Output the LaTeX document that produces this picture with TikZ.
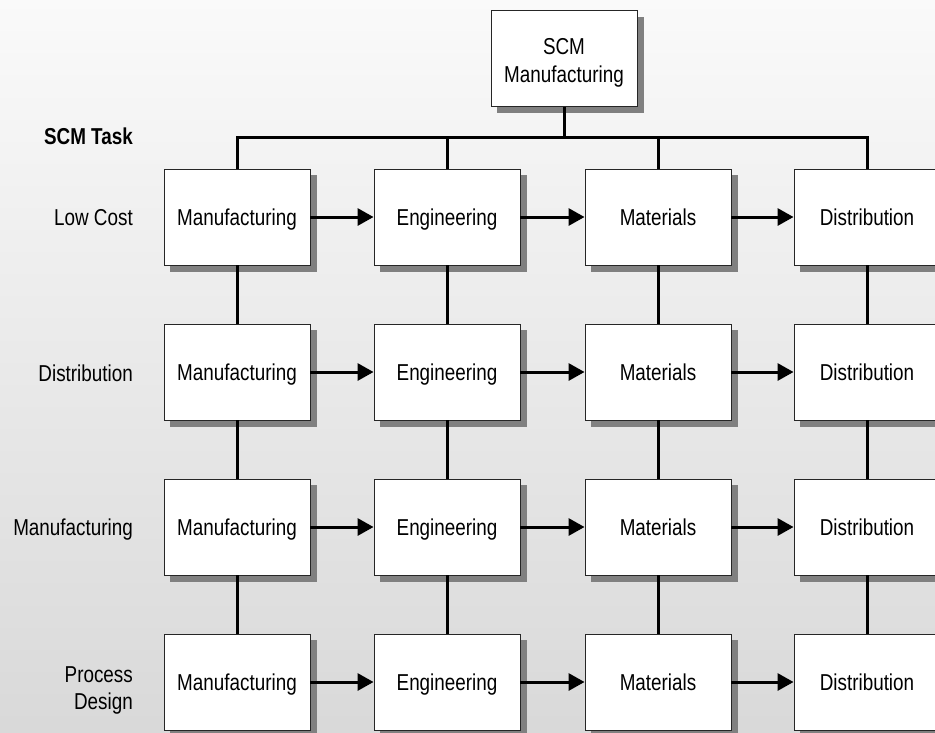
\documentclass[tikz,border=0pt]{standalone}
\usepackage{fontspec}
\setmainfont{Liberation Sans}[FakeStretch=0.82]
\usetikzlibrary{arrows.meta}
\pgfdeclarelayer{backdrop}
\pgfdeclarelayer{shade}
\pgfsetlayers{backdrop,shade,main}
\begin{document}
\begin{tikzpicture}[x=1pt,y=-1pt,
  txt/.style={font=\fontsize{23}{27}\selectfont},
  taskbox/.style={txt, draw=black!85, line width=0.9pt, fill=white,
    minimum width=146pt, minimum height=96pt, inner sep=0pt, align=center,
    text height=17pt, text depth=1pt},
  rowlabel/.style={txt, align=right, inner sep=0pt,
    text height=17pt, text depth=1pt},
  link/.style={line width=3pt},
  flow/.style={line width=3pt, -{Triangle[length=16pt,width=17pt]}},
  boxshadow/.style={fill=black!50}]

% canvas and backdrop
\useasboundingbox (0,0) rectangle (935,732);
\begin{pgfonlayer}{backdrop}
\shade[top color=black!2, bottom color=black!15] (0,0) rectangle (935,732);
\end{pgfonlayer}

% root of the hierarchy (two-line text: height is measured to the last baseline)
\node[taskbox, text height=47pt, text depth=0pt, font=\fontsize{23}{28}\selectfont]
  (root) at (564,58.5) {SCM\\Manufacturing};

% task grid: columns by function, rows by SCM task
\foreach \r/\y in {1/217,2/372,3/527,4/682}{
  \node[taskbox] (m\r) at (237,\y) {Manufacturing};
  \node[taskbox] (e\r) at (447,\y) {Engineering};
  \node[taskbox] (t\r) at (658,\y) {Materials};
  \node[taskbox] (d\r) at (867,\y) {Distribution};
}

% drop shadows behind every box
\begin{pgfonlayer}{shade}
\foreach \n in {root,m1,e1,t1,d1,m2,e2,t2,d2,m3,e3,t3,d3,m4,e4,t4,d4}{
  \fill[boxshadow] ([shift={(6.5,6.5)}]\n.north west) rectangle ([shift={(6.5,6.5)}]\n.south east);
}
\end{pgfonlayer}

% row captions
\node[rowlabel, anchor=east, font=\fontsize{23}{27}\selectfont\bfseries] (hdr) at (133,136) {SCM Task};
\node[rowlabel, anchor=east] (l1) at (133,217) {Low Cost};
\node[rowlabel, anchor=east] (l2) at (133,373) {Distribution};
\node[rowlabel, anchor=east] (l3) at (133,527) {Manufacturing};
\node[rowlabel, anchor=north east, text height=44pt] (l4) at (133,665) {Process\\Design};

% distribution bus from the root to each column
\coordinate (bus) at (564,137);
\draw[link] (root.south) -- (bus);
\draw[link] (m1.north) |- (bus) -| (d1.north);
\draw[link] (e1.north) -- (e1.north |- bus);
\draw[link] (t1.north) -- (t1.north |- bus);

% vertical links between rows
\foreach \c in {m,e,t,d}{
  \draw[link] (\c1.south) -- (\c2.north);
  \draw[link] (\c2.south) -- (\c3.north);
  \draw[link] (\c3.south) -- (\c4.north);
}

% horizontal flow along each row
\foreach \r in {1,2,3,4}{
  \draw[flow] (m\r.east) -- (e\r.west);
  \draw[flow] (e\r.east) -- (t\r.west);
  \draw[flow] (t\r.east) -- (d\r.west);
}
\end{tikzpicture}
\end{document}
